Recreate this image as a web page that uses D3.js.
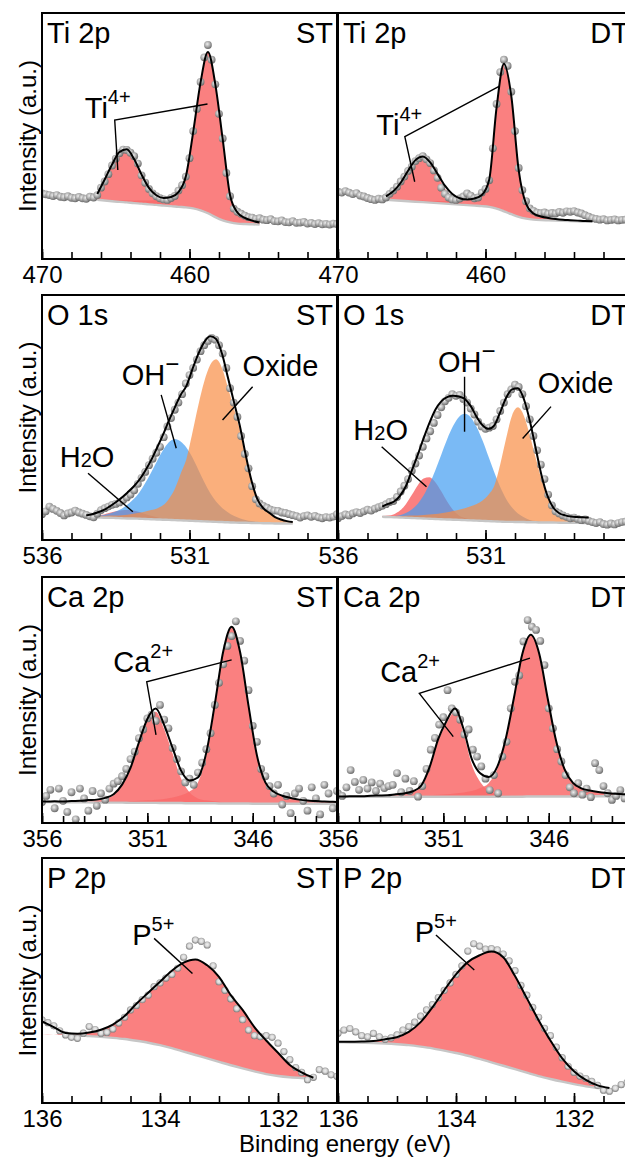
<!DOCTYPE html>
<html>
<head>
<meta charset="utf-8">
<script src="https://cdnjs.cloudflare.com/ajax/libs/d3/7.8.5/d3.min.js"></script>
<style>
  body { margin: 0; background: #fff; }
  svg text { font-family: "Liberation Sans", Arial, Helvetica, sans-serif; fill: #000; }
</style>
</head>
<body>
<svg id="chart" width="625" height="1157"></svg>
<script>
// ---------- measured points (intensity, a.u.) ----------
// Ti 2p: 470 -> 450 eV, every 0.25 eV
var tiStPts = [26.7,26.3,26.0,25.6,26.0,25.3,25.1,25.5,24.9,24.7,25.2,24.7,24.5,25.3,25.0,26.0,29.0,31.5,34.5,38.0,40.8,43.0,44.5,44.3,43.2,41.8,38.8,34.0,31.0,28.5,26.7,25.5,24.7,24.2,24.0,24.8,25.6,27.8,30.0,33.5,41.0,52.0,61.0,72.0,82.0,87.0,81.0,71.0,59.0,49.0,35.0,25.5,20.5,19.2,18.4,17.6,17.0,16.8,16.3,16.6,16.0,15.8,16.2,15.4,15.3,15.7,15.0,14.9,15.4,14.7,14.8,15.1,14.4,14.7,14.2,14.6,14.1,14.3,14.0,14.4,14.2];
var tiDtPts = [27.4,27.0,27.6,27.0,26.4,26.8,25.8,25.4,24.8,24.3,24.0,24.5,24.2,25.0,26.5,27.8,29.4,31.5,33.5,35.8,37.5,39.8,41.0,41.8,40.5,39.0,36.0,33.0,29.0,26.5,25.0,24.2,24.0,24.6,25.4,26.7,25.8,24.7,25.0,27.0,28.5,32.0,45.0,63.0,76.0,81.0,78.5,68.0,52.0,37.0,28.0,23.5,20.6,19.6,18.8,18.6,18.9,18.4,18.7,18.5,19.1,18.8,19.4,19.2,19.5,18.9,18.5,17.8,17.2,16.6,16.3,16.0,16.2,15.7,15.9,16.1,15.7,15.9,16.0,15.8,16.0];
// O 1s: 536 -> 526 eV, every 0.125 eV
var oStPts = [8.3,9.5,11.5,10.5,9.7,8.8,7.8,8.6,9.0,9.8,9.0,8.5,8.0,7.4,7.0,8.5,10.0,10.8,11.5,12.2,12.6,13.2,14.2,15.3,16.5,18.3,21.0,23.5,26.0,28.8,31.5,34.0,36.5,40.5,45.0,48.5,52.0,55.0,58.5,63.0,66.5,69.5,73.0,76.5,79.0,80.8,82.0,81.3,79.0,75.5,69.5,61.0,55.0,49.0,41.0,33.5,27.5,20.0,14.5,12.8,11.8,11.0,10.2,9.8,9.7,9.0,8.8,8.3,7.9,7.5,6.9,7.5,7.8,7.2,7.6,7.0,6.6,7.1,6.9,7.3,8.3];
var oDtPts = [6.6,7.5,8.2,7.8,8.6,9.2,8.8,9.5,10.2,9.8,10.6,11.2,11.8,12.5,13.4,13.8,15.5,17.8,20.2,23.0,26.5,29.5,32.8,36.5,40.0,43.0,46.5,49.8,53.0,55.5,57.0,58.5,57.8,58.2,56.5,55.0,52.5,50.0,47.0,45.0,44.0,44.5,45.2,48.0,51.5,55.0,58.5,60.5,62.5,61.5,58.5,53.5,48.0,41.0,35.0,29.0,23.0,16.5,12.0,9.5,8.6,7.8,7.2,6.6,6.9,6.3,5.8,6.1,5.5,5.0,4.6,5.0,4.2,3.9,4.4,4.0,4.6,5.0,5.2,4.8,5.0];
// Ca 2p: 356 -> 342 eV, every 0.2 eV
var caStPts = [8.5,11.0,13.5,6.0,14.0,9.0,4.5,12.5,1.5,14.0,10.0,5.0,13.0,7.0,12.0,9.5,14.0,16.0,17.0,19.0,22.0,26.0,29.0,34.5,38.0,42.5,44.0,41.5,48.0,42.0,38.5,30.5,26.0,21.0,16.5,18.0,15.5,20.5,24.5,30.0,36.5,48.0,57.0,64.5,72.0,76.0,82.0,74.0,66.0,54.0,39.5,33.0,22.0,19.0,15.0,12.0,15.5,7.5,11.0,4.0,12.0,14.0,9.0,5.0,14.5,10.0,3.5,15.5,12.0,6.0,13.0];
var caDtPts = [12.0,11.0,14.5,21.5,16.7,13.5,17.5,14.0,16.5,13.0,16.0,14.2,15.0,15.5,20.3,12.5,18.0,13.0,17.0,10.7,15.0,22.0,29.8,34.6,40.0,43.0,54.0,46.6,45.0,42.0,36.0,38.0,29.8,27.0,23.0,18.0,13.4,19.5,12.1,27.0,33.0,46.6,57.4,60.0,73.8,82.5,79.8,78.5,74.0,64.2,46.6,38.5,30.0,25.0,19.5,14.5,12.1,16.2,11.5,14.0,10.5,24.3,21.5,15.0,12.1,9.4,11.0,13.4,10.0,12.5,9.0];
// P 2p: 136 -> 131 eV, every 0.1 eV
var pStPts = [33.9,32.8,31.5,29.5,27.8,26.8,26.4,28.5,31.2,30.0,28.5,28.8,30.2,32.7,35.0,38.0,39.8,42.2,44.0,47.5,49.0,51.0,52.5,55.0,59.5,64.0,66.5,66.0,64.5,56.0,49.5,46.0,42.5,38.5,34.0,29.8,27.5,27.1,27.5,26.8,24.4,21.0,17.7,14.5,12.5,9.5,10.5,13.6,13.0,11.5,10.9];
var pDtPts = [28.5,29.8,30.4,29.0,27.5,27.0,28.4,27.0,26.0,26.6,27.8,29.8,31.2,33.0,35.5,38.0,40.2,43.0,46.0,49.0,52.5,56.0,62.0,65.0,64.0,62.8,63.0,62.5,60.8,58.0,54.0,48.0,44.0,39.0,35.0,30.5,27.5,22.8,18.5,15.0,12.5,11.0,10.0,8.8,7.2,5.2,4.8,6.0,7.5,8.4,8.6];

// ---------- fit: background, components, envelope ----------
// Ti ST: 466.25 -> 455.25 eV, every 0.5 eV
var tiStBg  = [24.1,23.8,23.5,23.2,23.0,22.7,22.5,22.2,22.0,21.7,21.5,21.2,21.0,20.6,19.8,18.6,17.0,15.7,14.9,14.4,14.2,14.1,14.0];
var tiStP1  = [2.0,8.1,14.4,19.7,20.8,16.8,10.5,5.1,1.9,0.6,0.2,0,0,0,0,0,0,0,0,0,0,0,0];
var tiStP3  = [0.3,0.4,0.5,0.6,0.8,1.0,1.3,1.6,2.0,2.5,3.5,6.0,12.5,31.0,52.0,65.5,54.0,33.0,11.0,4.5,2.5,1.5,0.8];
var tiStFit = [26.4,32.3,38.4,43.5,44.6,40.5,34.3,28.9,25.9,24.8,25.2,27.2,33.5,51.6,71.8,84.1,71.0,48.7,25.9,18.9,16.7,15.6,14.8];
// Ti DT: 466.75 -> 452.75 eV, every 0.5 eV
var tiDtBg  = [24.1,23.9,23.7,23.5,23.3,23.1,22.9,22.7,22.5,22.3,22.1,21.9,21.7,21.5,21.2,20.5,19.4,18.2,17.1,16.4,16.0,15.8,15.7,15.6,15.5,15.4,15.3,15.2,15.2];
var tiDtP1  = [1.2,3.3,7.0,12.0,16.4,18.0,15.7,11.0,6.2,2.8,1.0,0.3,0.1,0,0,0,0,0,0,0,0,0,0,0,0,0,0,0,0];
var tiDtP3  = [0.2,0.3,0.3,0.4,0.5,0.6,0.7,0.9,1.1,1.3,1.6,2.0,2.8,4.5,11.0,41.0,60.0,48.0,19.0,6.0,2.5,1.5,1.0,0.7,0.5,0.4,0.3,0.2,0.1];
var tiDtFit = [25.5,27.5,31.0,35.9,40.2,41.7,39.3,34.6,29.8,26.4,24.7,24.2,24.6,26.0,32.2,61.5,79.4,66.2,36.1,22.4,18.5,17.3,16.7,16.3,16.0,15.8,15.6,15.4,15.3];
// O 1s: 534.5 -> 527.5 eV, every 0.2 eV
var oStBg   = [7.0,6.9,6.9,6.8,6.8,6.7,6.6,6.5,6.5,6.4,6.3,6.2,6.1,6.0,5.9,5.8,5.7,5.6,5.5,5.4,5.3,5.2,5.1,5.0,4.9,4.8,4.7,4.7,4.6,4.6,4.5,4.5,4.4,4.4,4.4,4.4];
var oStH2o  = [0.2,0.5,0.9,1.4,2.1,2.8,3.3,3.5,3.3,2.8,2.1,1.4,0.9,0.5,0.2,0.1,0,0,0,0,0,0,0,0,0,0,0,0,0,0,0,0,0,0,0,0];
var oStOh   = [0.3,0.5,0.8,1.2,1.8,2.7,4.0,5.8,8.0,11.0,15.0,19.5,24.5,29.0,32.5,34.0,33.0,30.5,26.5,21.5,16.5,12.0,8.5,6.0,4.2,2.8,1.9,1.2,0.8,0.5,0.3,0.2,0.1,0.1,0,0];
var oStOx   = [0.3,0.4,0.5,0.7,0.9,1.1,1.3,1.6,2.0,2.5,3.1,3.8,4.6,6.0,8.8,13.0,19.5,26.0,37.0,48.5,58.5,65.5,68.0,64.5,56.5,48.0,39.0,27.5,17.0,9.5,6.0,4.2,2.6,1.6,1.0,0.6];
var oStFit  = [7.8,8.3,9.1,10.1,11.6,13.3,15.2,17.4,19.8,22.7,26.5,30.9,36.1,41.5,47.4,52.9,58.2,62.1,69.0,75.4,80.3,82.7,81.6,75.5,65.6,55.6,45.6,33.4,22.4,14.6,10.8,8.9,7.1,6.1,5.4,5.0];
var oDtBg   = [7.2,7.1,7.0,6.9,6.8,6.7,6.6,6.5,6.4,6.3,6.2,6.1,6.0,5.9,5.8,5.7,5.6,5.5,5.4,5.3,5.2,5.1,5.1,5.0,5.0,4.9,4.9,4.8,4.8,4.8,4.7,4.7,4.7,4.7,4.6,4.6];
var oDtH2o  = [0.3,0.6,1.3,2.9,5.7,9.6,13.7,16.7,17.4,15.4,11.7,7.5,4.1,1.9,0.9,0.4,0.2,0.1,0,0,0,0,0,0,0,0,0,0,0,0,0,0,0,0,0,0];
var oDtOh   = [0.1,0.2,0.5,1.0,2.0,3.6,6.0,9.6,14.5,20.4,27.0,33.6,39.2,43.1,44.5,43.1,39.2,33.6,27.0,20.4,14.5,9.6,6.0,3.6,2.0,1.0,0.5,0.2,0.1,0,0,0,0,0,0,0];
var oDtOx   = [0.3,0.4,0.5,0.6,0.8,1.0,1.2,1.5,1.8,2.1,2.5,3.0,3.6,4.3,5.0,5.9,7.0,8.5,11.0,15.0,24.0,35.0,44.5,48.0,44.5,36.5,27.0,18.0,11.0,6.5,3.8,2.2,1.3,0.8,0.5,0.3];
var oDtFit  = [11.5,12.6,13.6,16.0,20.0,26.5,33.0,40.0,46.5,52.0,55.5,57.3,57.8,57.5,56.5,53.5,49.0,45.5,44.0,45.5,51.0,57.0,60.5,61.0,56.5,47.5,36.0,24.5,16.0,11.0,8.7,7.8,7.3,7.1,7.0,6.9];
// Ca ST: 356.2 -> 341.8 eV, every 0.4 eV
var caStBg  = [8.5,8.5,8.5,8.4,8.4,8.4,8.4,8.3,8.3,8.3,8.3,8.2,8.2,8.2,8.2,8.1,8.1,8.1,8.0,8.0,8.0,8.0,7.9,7.9,7.9,7.9,7.8,7.8,7.8,7.8,7.8,7.8,7.8,7.8,7.8,7.8,7.8];
var caStP1  = [0.1,0.1,0.2,0.2,0.3,0.4,0.6,0.9,1.5,3.0,6.8,13.6,23.8,33.1,37.0,30.0,20.0,10.0,4.5,2.0,1.2,0.8,0.5,0.4,0.3,0.3,0.2,0.2,0.1,0.1,0.1,0,0,0,0,0,0];
var caStP3  = [0.1,0.1,0.1,0.1,0.2,0.2,0.3,0.3,0.4,0.4,0.5,0.6,0.8,1.0,1.3,1.7,2.3,3.2,4.8,8.5,19.5,39.5,61.3,71.5,61.3,39.5,19.5,8.5,4.8,3.2,2.3,1.7,1.3,1.1,0.9,0.8,0.7];
var caStFit = [8.7,8.7,8.8,8.7,8.9,9.0,9.3,9.5,10.2,11.7,15.6,22.4,32.8,42.3,46.5,39.8,30.4,21.3,17.3,18.5,28.7,48.3,69.7,79.8,69.5,47.7,27.5,16.5,12.7,11.1,10.2,9.5,9.1,8.9,8.7,8.6,8.5];
// Ca DT: 356.05 -> 341.65 eV, every 0.4 eV
var caDtBg  = [10.6,10.6,10.6,10.6,10.6,10.6,10.6,10.7,10.7,10.7,10.7,10.7,10.7,10.7,10.7,10.7,10.7,10.7,10.7,10.7,10.7,10.7,10.7,10.8,10.8,10.8,10.8,10.8,10.8,10.8,10.9,10.9,10.9,10.9,10.9,10.9,10.9];
var caDtP1  = [0.1,0.1,0.2,0.2,0.3,0.4,0.5,0.7,1.0,1.8,4.0,11.5,22.5,29.8,34.5,26.0,13.0,6.0,2.5,1.0,0.6,0.4,0.3,0.2,0.2,0.1,0.1,0.1,0,0,0,0,0,0,0,0,0];
var caDtP3  = [0.1,0.1,0.1,0.1,0.2,0.2,0.2,0.3,0.3,0.4,0.5,0.6,0.8,1.0,1.3,1.7,2.3,3.5,5.5,11.0,22.5,39.8,57.8,65.5,57.8,39.8,22.5,11.0,5.5,3.3,2.3,1.7,1.3,1.0,0.8,0.7,0.6];
var caDtFit = [10.8,10.8,10.9,10.9,11.1,11.2,11.3,11.7,12.0,12.9,15.2,22.8,34.0,41.5,46.5,38.4,26.0,20.2,18.7,22.7,33.8,50.9,68.8,76.5,68.8,50.7,33.4,21.9,16.3,14.1,13.2,12.6,12.2,11.9,11.7,11.6,11.5];
// P 2p: 136.0 -> 131.4 eV, every 0.2 eV
var pStBg   = [28.0,27.9,27.8,27.6,27.3,27.0,26.6,26.1,25.4,24.6,23.6,22.4,21.0,19.6,18.2,16.8,15.4,14.1,12.9,11.8,11.0,10.5,10.2,10.0];
var pStP5   = [0,0,0.8,0.7,1.5,2.9,5.4,9.4,15.1,20.4,25.9,31.6,36.3,39.0,38.0,34.7,28.6,23.9,18.1,13.7,9.5,5.0,2.3,0.3];
var pStFit  = [33.3,31.0,28.6,28.3,28.8,29.9,32.0,35.5,40.5,45.0,49.5,54.0,57.3,58.6,56.2,51.5,44.0,38.0,31.0,25.5,20.5,15.5,12.5,10.3];
var pDtBg   = [24.8,24.7,24.6,24.5,24.3,24.0,23.6,23.0,22.3,21.4,20.4,19.3,18.0,16.6,15.2,13.8,12.4,11.0,9.8,8.7,7.7,6.8,6.1,5.8];
var pDtP5   = [0.2,0.3,0.5,0.8,1.7,2.9,5.4,10.0,16.7,24.6,32.1,38.2,42.3,45.2,44.3,38.0,30.4,22.8,15.7,9.5,5.3,2.6,1.1,0.3];
var pDtFit  = [25.0,25.0,25.1,25.3,26.0,26.9,29.0,33.0,39.0,46.0,52.5,57.5,60.3,61.8,59.5,51.8,42.8,33.8,25.5,18.2,13.0,9.4,7.2,6.1];

// tick labels per core level
var tiLabels = [470, 460];
var oLabels  = [536, 531];
var caLabels = [356, 351, 346];
var pLabels  = [136, 134, 132];

// ---------- layout ----------
var colX = [42, 338], panelW = 295;
var rowTop = [13, 295, 577, 858], rowBot = [259, 540, 823, 1103];
var rowYLo = [0, -2.5, 0, 0];

var red = "#f96b6b", blue = "#419cf1", orange = "#f88d45";

var tiNote = [{t: "Ti"}, {t: "4+", size: 20, dy: -14}];
var caNote = [{t: "Ca"}, {t: "2+", size: 20, dy: -14}];
var pNote = [{t: "P"}, {t: "5+", size: 20, dy: -14}];
var ohNote = [{t: "OH"}, {t: "\u2212", size: 24, dy: -13}];
var oxNote = [{t: "Oxide"}];
var h2oNote = [{t: "H"}, {t: "2", size: 20}, {t: "O"}];

var panels = [
  {title: "Ti 2p", tag: "ST", col: 0, row: 0, xDomain: [470, 450], tickStep: 2, labels: tiLabels,
   pts: tiStPts, ptsStart: 470, ptsStep: 0.25, gridStart: 466.25, gridStep: 0.5,
   bg: tiStBg, fit: tiStFit, comps: [{vals: tiStP1, color: red, op: 0.86}, {vals: tiStP3, color: red, op: 0.86}],
   notes: [{parts: tiNote, at: [467.1, 57.3], line: [[464.86, 36.2], [465.07, 56.5], [458.78, 63.0]]}]},
  {title: "Ti 2p", tag: "DT", col: 1, row: 0, xDomain: [470, 450], tickStep: 2, labels: tiLabels,
   pts: tiDtPts, ptsStart: 470, ptsStep: 0.25, gridStart: 466.75, gridStep: 0.5,
   bg: tiDtBg, fit: tiDtFit, comps: [{vals: tiDtP1, color: red, op: 0.86}, {vals: tiDtP3, color: red, op: 0.86}],
   notes: [{parts: tiNote, at: [467.4, 50.4], line: [[464.8, 31.4], [465.47, 49.7], [459.05, 70.3]]}]},
  {title: "O 1s", tag: "ST", col: 0, row: 1, xDomain: [536, 526], tickStep: 1, labels: oLabels,
   pts: oStPts, ptsStart: 536, ptsStep: 0.125, gridStart: 534.5, gridStep: 0.2,
   bg: oStBg, fit: oStFit,
   comps: [{vals: oStH2o, color: red, op: 0.86}, {vals: oStOh, color: blue, op: 0.7}, {vals: oStOx, color: orange, op: 0.7}],
   notes: [{parts: ohNote, at: [533.3, 62.3], line: [[531.96, 58.2], [531.45, 35.9]]},
           {parts: oxNote, at: [529.2, 66.0], line: [[528.86, 61.6], [529.88, 47.7]]},
           {parts: h2oNote, at: [535.4, 28.2], line: [[534.44, 25.4], [532.92, 9.3]]}]},
  {title: "O 1s", tag: "DT", col: 1, row: 1, xDomain: [536, 526], tickStep: 1, labels: oLabels,
   pts: oDtPts, ptsStart: 536, ptsStep: 0.125, gridStart: 534.5, gridStep: 0.2,
   bg: oDtBg, fit: oDtFit,
   comps: [{vals: oDtH2o, color: red, op: 0.86}, {vals: oDtOh, color: blue, op: 0.7}, {vals: oDtOx, color: orange, op: 0.7}],
   notes: [{parts: ohNote, at: [532.61, 67.7], line: [[531.71, 65.8], [531.71, 42.8]]},
           {parts: oxNote, at: [529.23, 58.9], line: [[528.78, 53.3], [529.74, 40.0]]},
           {parts: h2oNote, at: [535.48, 39.3], line: [[534.52, 36.5], [533.0, 19.8]]}]},
  {title: "Ca 2p", tag: "ST", col: 0, row: 2, xDomain: [356, 342], tickStep: 1, labels: caLabels,
   pts: caStPts, ptsStart: 356, ptsStep: 0.2, gridStart: 356.2, gridStep: 0.4,
   bg: caStBg, fit: caStFit, comps: [{vals: caStP1, color: red, op: 0.86}, {vals: caStP3, color: red, op: 0.86}],
   notes: [{parts: caNote, at: [352.62, 61.5], line: [[350.59, 35.8], [351.03, 57.4], [347.0, 66.3]]}]},
  {title: "Ca 2p", tag: "DT", col: 1, row: 2, xDomain: [356, 342], tickStep: 1, labels: caLabels,
   pts: caDtPts, ptsStart: 356, ptsStep: 0.2, gridStart: 356.05, gridStep: 0.4,
   bg: caDtBg, fit: caDtFit, comps: [{vals: caDtP1, color: red, op: 0.86}, {vals: caDtP3, color: red, op: 0.86}],
   notes: [{parts: caNote, at: [354.0, 57.4], line: [[350.53, 35.1], [352.14, 52.7], [346.89, 67.0]]}]},
  {title: "P 2p", tag: "ST", col: 0, row: 3, xDomain: [136, 131], tickStep: 0.5, labels: pLabels, ring: true,
   pts: pStPts, ptsStart: 136, ptsStep: 0.1, gridStart: 136, gridStep: 0.2,
   bg: pStBg, fit: pStFit, comps: [{vals: pStP5, color: red, op: 0.86}],
   notes: [{parts: pNote, at: [134.47, 64.5], line: [[134.1, 67.2], [133.45, 52.9]]}]},
  {title: "P 2p", tag: "DT", col: 1, row: 3, xDomain: [136, 131], tickStep: 0.5, labels: pLabels, ring: true,
   pts: pDtPts, ptsStart: 136, ptsStep: 0.1, gridStart: 136, gridStep: 0.2,
   bg: pDtBg, fit: pDtFit, comps: [{vals: pDtP5, color: red, op: 0.86}],
   notes: [{parts: pNote, at: [134.7, 65.8], line: [[134.34, 68.6], [133.69, 54.3]]}]}
];

var svg = d3.select("#chart");
var defs = svg.append("defs");

// shaded balls for the data points
var ball = defs.append("radialGradient").attr("id", "ball")
    .attr("cx", "42%").attr("cy", "38%").attr("r", "62%");
ball.append("stop").attr("offset", "0%").attr("stop-color", "#eeeeee");
ball.append("stop").attr("offset", "50%").attr("stop-color", "#b2b2b2");
ball.append("stop").attr("offset", "100%").attr("stop-color", "#6c6c6c");
var ring = defs.append("radialGradient").attr("id", "ring")
    .attr("cx", "50%").attr("cy", "45%").attr("r", "55%");
ring.append("stop").attr("offset", "0%").attr("stop-color", "#f0f0f0");
ring.append("stop").attr("offset", "50%").attr("stop-color", "#d6d6d6");
ring.append("stop").attr("offset", "100%").attr("stop-color", "#7a7a7a");

panels.forEach(function (p, k) {
    var x0 = colX[p.col], top = rowTop[p.row], bot = rowBot[p.row];
    var x = d3.scaleLinear().domain(p.xDomain).range([x0, x0 + panelW]);
    var y = d3.scaleLinear().domain([rowYLo[p.row], 100]).range([bot, top]);

    defs.append("clipPath").attr("id", "clip" + k).append("rect")
        .attr("x", x0).attr("y", top).attr("width", panelW).attr("height", bot - top);

    var g = svg.append("g");
    var plot = g.append("g").attr("clip-path", "url(#clip" + k + ")");

    var grid = p.bg.map(function (b, i) { return p.gridStart - i * p.gridStep; });

    // component peaks, filled from the background
    p.comps.forEach(function (c) {
        var area = d3.area()
            .x(function (d, i) { return x(grid[i]); })
            .y0(function (d, i) { return y(p.bg[i]); })
            .y1(function (d, i) { return y(p.bg[i] + d); })
            .curve(d3.curveMonotoneX);
        plot.append("path").datum(c.vals)
            .attr("d", area)
            .attr("fill", c.color)
            .attr("fill-opacity", c.op);
    });

    // background
    var bgLine = d3.line()
        .defined(function (d, i) { return d3.sum(p.comps, function (c) { return c.vals[i]; }) > 0; })
        .x(function (d, i) { return x(grid[i]); })
        .y(function (d) { return y(d); })
        .curve(d3.curveMonotoneX);
    plot.append("path").datum(p.bg)
        .attr("d", bgLine)
        .attr("fill", "none")
        .attr("stroke", "#c6c6c6")
        .attr("stroke-width", 2.4);

    // measured points
    plot.selectAll("circle.pt")
        .data(p.pts)
        .enter()
        .append("circle")
        .attr("class", "pt")
        .attr("cx", function (d, i) { return x(p.ptsStart - i * p.ptsStep); })
        .attr("cy", function (d) { return y(d); })
        .attr("r", p.ring ? 3.6 : 3.9)
        .attr("fill", p.ring ? "url(#ring)" : "url(#ball)");

    // envelope
    var fitLine = d3.line()
        .x(function (d, i) { return x(grid[i]); })
        .y(function (d) { return y(d); })
        .curve(d3.curveMonotoneX);
    plot.append("path").datum(p.fit)
        .attr("d", fitLine)
        .attr("fill", "none")
        .attr("stroke", "#000")
        .attr("stroke-width", 2);

    // labels with leader lines
    p.notes.forEach(function (n) {
        g.append("path")
            .attr("d", d3.line().x(function (d) { return x(d[0]); }).y(function (d) { return y(d[1]); })(n.line))
            .attr("fill", "none")
            .attr("stroke", "#000")
            .attr("stroke-width", 1.4);
        var t = g.append("text")
            .attr("x", x(n.at[0]))
            .attr("y", y(n.at[1]))
            .attr("font-size", 29);
        n.parts.forEach(function (part) {
            var s = t.append("tspan").text(part.t);
            if (part.size) s.attr("font-size", part.size);
            if (part.dy) s.attr("dy", part.dy);
        });
    });

    // ticks: short ones everywhere, longer labelled ones
    var minorVals = d3.range(0, Math.round((p.xDomain[0] - p.xDomain[1]) / p.tickStep) + 1)
        .map(function (i) { return p.xDomain[1] + i * p.tickStep; });
    var minorAxis = g.append("g")
        .attr("transform", "translate(0," + bot + ")")
        .call(d3.axisBottom(x).tickValues(minorVals).tickSize(-7).tickFormat(""));
    minorAxis.select(".domain").remove();
    minorAxis.selectAll("line").attr("stroke-width", 1.6);

    var majorAxis = g.append("g")
        .attr("transform", "translate(0," + bot + ")")
        .call(d3.axisBottom(x).tickValues(p.labels).tickSize(-10).tickPadding(7).tickFormat(d3.format("d")));
    majorAxis.select(".domain").remove();
    majorAxis.selectAll("line").attr("stroke-width", 1.6);
    majorAxis.attr("font-size", 24).attr("font-family", null);
    majorAxis.selectAll("text").attr("fill", "#000");

    // frame
    g.append("rect")
        .attr("x", x0).attr("y", top)
        .attr("width", panelW).attr("height", bot - top)
        .attr("fill", "none")
        .attr("stroke", "#000")
        .attr("stroke-width", 2);

    g.append("text")
        .attr("x", x0 + 5).attr("y", top + 30)
        .attr("font-size", 29)
        .text(p.title);
    g.append("text")
        .attr("x", x0 + panelW - 4).attr("y", top + 30)
        .attr("font-size", 29)
        .attr("text-anchor", "end")
        .text(p.tag);
});

// axis titles
rowTop.forEach(function (t, r) {
    svg.append("text")
        .attr("transform", "translate(27," + ((t + rowBot[r]) / 2) + ") rotate(-90)")
        .attr("text-anchor", "middle")
        .attr("dominant-baseline", "central")
        .attr("font-size", 24)
        .text("Intensity (a.u.)");
});
svg.append("text")
    .attr("x", 345).attr("y", 1152)
    .attr("text-anchor", "middle")
    .attr("font-size", 24)
    .text("Binding energy (eV)");
</script>
</body>
</html>
